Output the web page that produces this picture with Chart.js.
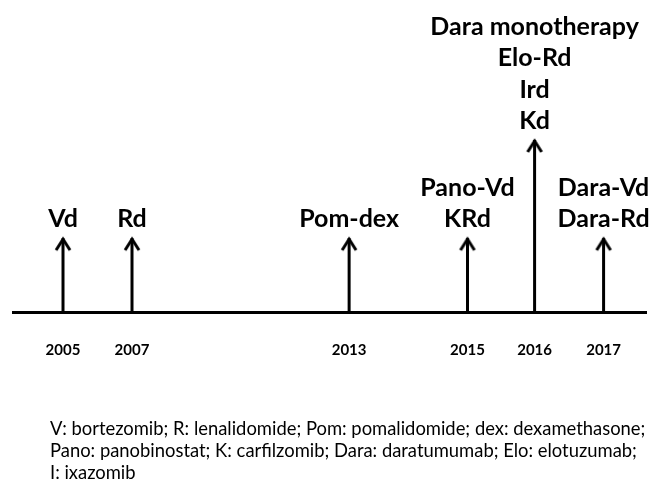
<!DOCTYPE html>
<html>
<head>
<meta charset="utf-8">
<script src="https://cdn.jsdelivr.net/npm/chart.js@4.4.1/dist/chart.umd.min.js"></script>
<style>
  html, body { margin: 0; padding: 0; background: #fff; }
  #wrap { width: 659px; height: 486px; }
</style>
</head>
<body>
<div id="wrap"><canvas id="timeline"></canvas></div>
<script>
// timeline data
var anni = ['2005', '2007', '2013', '2015', '2016', '2017'];
// position of each year along the drawn axis (0 = left end, 100 = right end)
var posizioni = [7.9, 18.8, 53.1, 71.8, 82.4, 93.3];
// arrow height (relative)
var altezze = [1, 1, 1, 1, 2.33, 1];
var terapie = [
    ['Vd'],
    ['Rd'],
    ['Pom-dex'],
    ['Pano-Vd', 'KRd'],
    ['Dara monotherapy', 'Elo-Rd', 'Ird', 'Kd'],
    ['Dara-Vd', 'Dara-Rd']
];
var legenda = [
    'V: bortezomib; R: lenalidomide; Pom: pomalidomide; dex: dexamethasone;',
    'Pano: panobinostat; K: carfilzomib; Dara: daratumumab; Elo: elotuzumab;',
    'I: ixazomib'
];

var FONT = 'Lato, "Open Sans", sans-serif';

// arrow head as a point style: tip in the centre of the canvas
function creaPunta(){
    var c = document.createElement('canvas');
    c.width = 20;
    c.height = 30;
    var g = c.getContext('2d');
    g.strokeStyle = '#000';
    g.lineWidth = 3;
    g.lineJoin = 'miter';
    g.beginPath();
    g.moveTo(3, 27);
    g.lineTo(10, 16);
    g.lineTo(17, 27);
    g.stroke();
    return c;
}
var punta = creaPunta();

var datasets = [];
for (var i = 0; i < anni.length; i++) {
    datasets.push({
        label: anni[i],
        data: [{x: posizioni[i], y: 0}, {x: posizioni[i], y: altezze[i]}],
        borderColor: '#000',
        borderWidth: 3,
        showLine: true,
        clip: false,
        pointRadius: [0, 10],
        pointStyle: [false, punta],
        pointHoverRadius: 0
    });
}

var etichette = {
    id: 'etichette',
    afterDatasetsDraw: function(chart){
        var ctx = chart.ctx;
        var xs = chart.scales.x;
        var ys = chart.scales.y;
        ctx.save();
        ctx.fillStyle = '#000';
        ctx.textAlign = 'center';
        ctx.textBaseline = 'alphabetic';
        ctx.font = 'bold 25px ' + FONT;
        for (var i = 0; i < terapie.length; i++) {
            var x = xs.getPixelForValue(posizioni[i]);
            var yTop = ys.getPixelForValue(altezze[i]);
            var righe = terapie[i];
            for (var j = 0; j < righe.length; j++) {
                var y = yTop - 11 - (righe.length - 1 - j) * 31.5;
                ctx.fillText(righe[j], x, y);
            }
        }
        // footnote
        ctx.textAlign = 'left';
        ctx.font = '18.4px ' + FONT;
        for (var k = 0; k < legenda.length; k++) {
            ctx.fillText(legenda[k], 50, 435 + k * 22);
        }
        ctx.restore();
    }
};

new Chart(document.getElementById('timeline'), {
    type: 'scatter',
    data: { datasets: datasets },
    options: {
        responsive: true,
        maintainAspectRatio: false,
        animation: false,
        layout: { padding: { left: 10, right: 7, top: 140, bottom: 98 } },
        plugins: {
            legend: { display: false },
            tooltip: { enabled: false }
        },
        scales: {
            x: {
                type: 'linear',
                min: 0,
                max: 100,
                afterBuildTicks: function(scale){
                    scale.ticks = posizioni.map(function(p){ return {value: p}; });
                },
                grid: { display: false, drawTicks: false },
                border: { display: true, color: '#000', width: 3 },
                ticks: {
                    autoSkip: false,
                    maxRotation: 0,
                    padding: 29,
                    color: '#000',
                    font: { family: FONT, size: 15, weight: 'bold' },
                    callback: function(value){
                        var idx = posizioni.indexOf(value);
                        return idx >= 0 ? anni[idx] : '';
                    }
                }
            },
            y: {
                display: false,
                min: 0,
                max: 2.33
            }
        }
    },
    plugins: [etichette]
});
</script>
</body>
</html>
